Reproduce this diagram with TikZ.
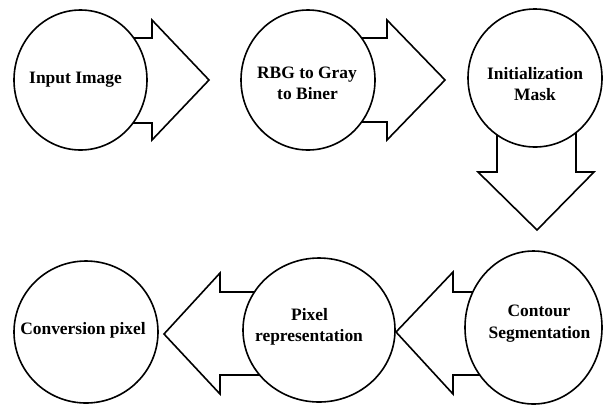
\documentclass[tikz,border=0pt]{standalone}
\usepackage{fontspec}
\setmainfont{Liberation Serif}
\usetikzlibrary{shapes.geometric}
\tikzset{
  blockarrow/.style={draw=black, fill=white, line width=1.6bp, line join=miter},
  stage/.style={draw=black, fill=white, line width=1.6bp, ellipse, inner sep=0pt},
  lbl/.style={anchor=base, font=\fontsize{17.5}{21}\selectfont\bfseries, inner sep=0pt, text=black}
}
\begin{document}
\begin{tikzpicture}[x=1bp,y=-1bp]
\useasboundingbox (0,0) rectangle (603,405);
% block arrows (drawn first, circles cover shaft ends)
\draw[blockarrow] (110,38) -- (152,38) -- (152,20) -- (209,80) -- (152,140) -- (152,123) -- (110,123) -- cycle;
\draw[blockarrow] (340,38) -- (387,38) -- (387,20) -- (445,80) -- (387,140) -- (387,122) -- (340,122) -- cycle;
\draw[blockarrow] (497,110) -- (497,172) -- (478,172) -- (537,230) -- (594,172) -- (576,172) -- (576,110) -- cycle;
\draw[blockarrow] (280,292) -- (220,292) -- (220,273) -- (164,334) -- (220,394) -- (220,375) -- (280,375) -- cycle;
\draw[blockarrow] (500,292) -- (453,292) -- (453,272) -- (396,332) -- (453,394) -- (453,375) -- (500,375) -- cycle;
% stages
\node[stage, minimum width=133bp, minimum height=140bp] (c1) at (80.5,80) {};
\node[stage, minimum width=134bp, minimum height=140bp] (c2) at (308,80) {};
\node[stage, minimum width=134bp, minimum height=138bp] (c3) at (535,78) {};
\node[stage, minimum width=144bp, minimum height=142bp] (c4) at (86,332) {};
\node[stage, minimum width=152bp, minimum height=144bp] (c5) at (319,330) {};
\node[stage, minimum width=137bp, minimum height=153bp] (c6) at (533.5,327.5) {};
% labels
\node[lbl] (t1) at (75.5,83) {Input Image};
\node[lbl] (t2a) at (307,78) {RBG to Gray};
\node[lbl] (t2b) at (307.5,99) {to Biner};
\node[lbl] (t3a) at (535,79.5) {Initialization};
\node[lbl] (t3b) at (535,100.5) {Mask};
\node[lbl] (t4) at (83,334) {Conversion pixel};
\node[lbl] (t5a) at (309.5,320.5) {Pixel};
\node[lbl] (t5b) at (309,341.5) {representation};
\node[lbl] (t6a) at (539,316.5) {Contour};
\node[lbl] (t6b) at (539.5,338) {Segmentation};
\end{tikzpicture}
\end{document}
